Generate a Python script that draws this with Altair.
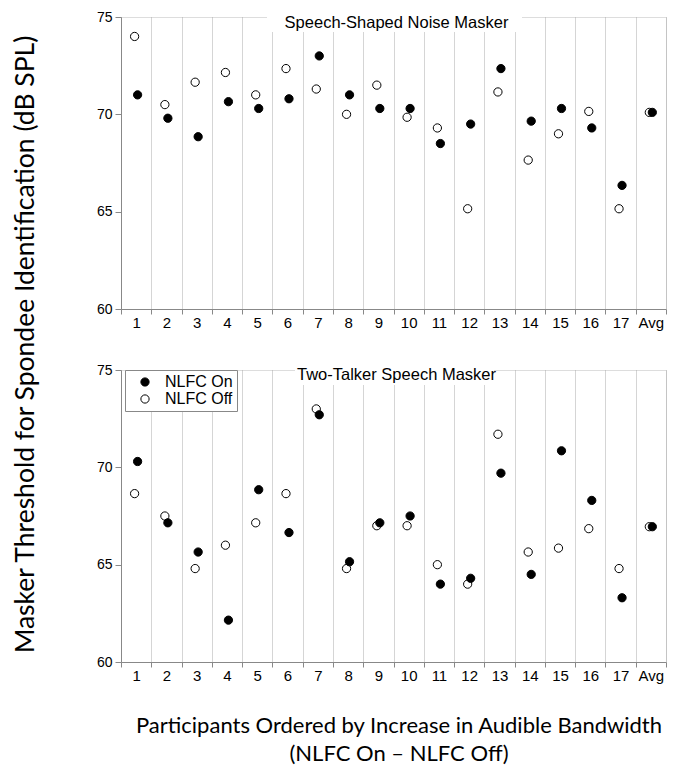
import altair as alt
import pandas as pd

participants = [str(i) for i in range(1, 18)] + ["Avg"]

ssn_on = [71.0, 69.8, 68.85, 70.65, 70.3, 70.8, 73.0, 71.0, 70.3, 70.3, 68.5, 69.5, 72.35, 69.65, 70.3, 69.3, 66.35, 70.1]
ssn_off = [74.0, 70.5, 71.65, 72.15, 71.0, 72.35, 71.3, 70.0, 71.5, 69.85, 69.3, 65.15, 71.15, 67.65, 69.0, 70.15, 65.15, 70.1]

tt_on = [70.3, 67.15, 65.65, 62.15, 68.85, 66.65, 72.7, 65.15, 67.15, 67.5, 64.0, 64.3, 69.7, 64.5, 70.85, 68.3, 63.3, 66.95]
tt_off = [68.65, 67.5, 64.8, 66.0, 67.15, 68.65, 73.0, 64.8, 67.0, 67.0, 65.0, 64.0, 71.7, 65.65, 65.85, 66.85, 64.8, 66.95]

conditions = ["NLFC On", "NLFC Off"]
y_ticks = [60, 65, 70, 75]

W = 545
H = 292
LABEL_FONT = "Liberation Sans"
TITLE_FONT = "Lato"


def panel(on, off, title, title_rect, title_y, show_legend, x_title):
    df = pd.DataFrame({
        "participant": participants * 2,
        "condition": ["NLFC Off"] * len(off) + ["NLFC On"] * len(on),
        "threshold": off + on,
    })

    if show_legend:
        legend = alt.Legend(
            title=None, orient="none", legendX=4, legendY=0,
            fillColor="white", strokeColor="#888888", padding=4,
            labelFont=LABEL_FONT, labelFontSize=16, labelColor="black",
            symbolType="circle", symbolSize=68, symbolStrokeColor="black",
            symbolStrokeWidth=1, symbolOffset=8, labelOffset=12, rowPadding=1,
            cornerRadius=0,
        )
    else:
        legend = None

    x_axis_kwargs = dict(
        title=None, labelAngle=0, tickBand="extent", grid=True,
        gridColor="#aaaaaa", gridDash=[1, 1], gridWidth=1,
        domainColor="#888888", tickColor="#888888", tickSize=5,
        labelFont=LABEL_FONT, labelFontSize=15, labelColor="black", labelPadding=1,
    )
    if x_title is not None:
        x_axis_kwargs.update(
            title=x_title, titleFont=TITLE_FONT, titleFontSize=22,
            titleFontWeight="normal", titleColor="black",
            titleX=W / 2 + 5, titleY=70, titleBaseline="alphabetic",
            titleAlign="center", titleLineHeight=28,
        )

    y_axis_kwargs = dict(
        values=y_ticks, grid=False, domainColor="#888888", tickColor="#888888",
        tickSize=6, labelFont=LABEL_FONT, labelFontSize=14, labelColor="black",
        labelPadding=3, title=None,
    )
    if show_legend:
        y_axis_kwargs.update(
            title="Masker Threshold for Spondee Identification (dB SPL)",
            titleFont=TITLE_FONT, titleFontSize=26.5, titleFontWeight="normal",
            titleColor="black", titleAngle=270, titleX=-96, titleY=-26,
            titleAlign="center", titleBaseline="middle",
        )

    points = alt.Chart(df).mark_point(
        shape="circle", filled=True, size=68, stroke="black",
        strokeWidth=1, opacity=1,
    ).encode(
        x=alt.X("participant:N", sort=participants,
                scale=alt.Scale(type="band", paddingInner=0, paddingOuter=0),
                axis=alt.Axis(**x_axis_kwargs)),
        xOffset=alt.XOffset("condition:N",
                            scale=alt.Scale(domain=["NLFC Off", "NLFC On"],
                                            range=[12.1, 18.1])),
        y=alt.Y("threshold:Q", scale=alt.Scale(domain=[60, 75], nice=False, zero=False),
                axis=alt.Axis(**y_axis_kwargs)),
        fill=alt.Fill("condition:N",
                      scale=alt.Scale(domain=conditions, range=["black", "white"]),
                      legend=legend),
    )

    tdf = pd.DataFrame({"label": [title]})
    mask = alt.Chart(tdf).mark_rect(fill="white", stroke=None).encode(
        x=alt.value(title_rect[0]), x2=alt.value(title_rect[1]),
        y=alt.value(0), y2=alt.value(15),
    )
    text = alt.Chart(tdf).mark_text(
        font=LABEL_FONT, fontSize=16.5, color="black", align="center",
        baseline="alphabetic",
    ).encode(text="label:N", x=alt.value(W / 2 + 3), y=alt.value(title_y))

    return alt.layer(mask, text, points).properties(width=W, height=H)


top = panel(ssn_on, ssn_off, "Speech-Shaped Noise Masker", (146, 401), 11, False, None)
bottom = panel(tt_on, tt_off, "Two-Talker Speech Masker", (174, 373), 10, True,
               ["Participants Ordered by Increase in Audible Bandwidth",
                "(NLFC On \u2013 NLFC Off)"])

chart = alt.vconcat(top, bottom, spacing=61, bounds="flush").resolve_scale(
    fill="independent", x="independent", y="independent", xOffset="independent"
).resolve_legend(fill="independent").properties(
    padding={"left": 3, "top": 1, "right": 0, "bottom": 0}
).configure_view(stroke=None).configure(background="white")

chart.save("out.html", embed_options={"renderer": "svg", "actions": False})
